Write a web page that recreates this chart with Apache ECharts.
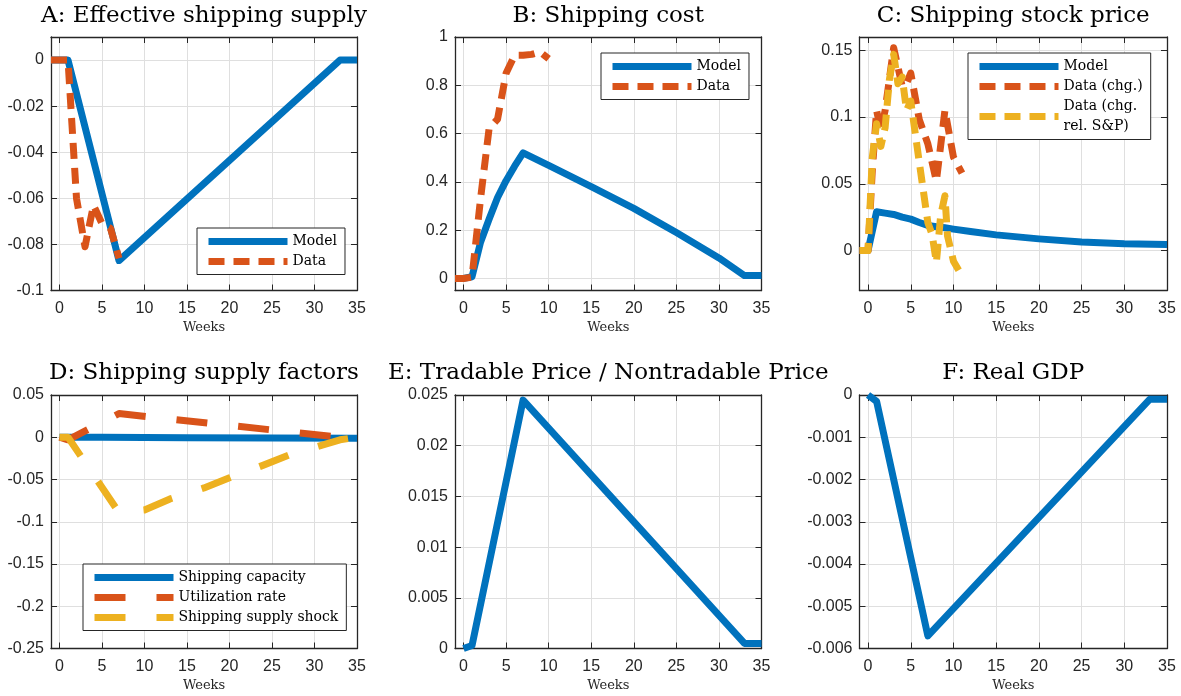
<!DOCTYPE html>
<html>
<head>
<meta charset="utf-8">
<script src="https://cdn.jsdelivr.net/npm/echarts@6/dist/echarts.min.js"></script>
<style>
  html, body { margin: 0; padding: 0; background: #fff; }
  #chart { width: 1181px; height: 696px; }
</style>
</head>
<body>
<div id="chart"></div>
<script>
// ---- Panel titles ----
const panelTitles = [
  'A: Effective shipping supply',
  'B: Shipping cost',
  'C: Shipping stock price',
  'D: Shipping supply factors',
  'E: Tradable Price / Nontradable Price',
  'F: Real GDP'
];

// ---- A: Effective shipping supply ----
const supplyModelWeeks  = [-1, 0, 1, 7, 33, 35];
const supplyModelValues = [0, 0, 0, -0.087, 0, 0];
const supplyDataWeeks   = [-1, 0, 1, 2, 3, 4, 5, 6, 7];
const supplyDataValues  = [0, 0, 0, -0.06, -0.081, -0.063, -0.071, -0.073, -0.086];

// ---- B: Shipping cost ----
const costModelWeeks  = [-1, 0, 1, 2, 3, 4, 5, 6, 7, 10, 15, 20, 25, 30, 33, 35];
const costModelValues = [0, 0, 0.007, 0.15, 0.245, 0.335, 0.405, 0.465, 0.52, 0.468, 0.38, 0.29, 0.19, 0.085, 0.012, 0.012];
const costDataWeeks   = [-1, 0, 1, 2, 3, 4, 5, 6, 7, 8, 9, 10];
const costDataValues  = [0, 0, 0.005, 0.33, 0.62, 0.66, 0.85, 0.924, 0.924, 0.928, 0.938, 0.91];

// ---- C: Shipping stock price ----
const stockModelWeeks  = [-1, 0, 1, 2, 3, 4, 5, 6, 7, 8, 9, 10, 12, 15, 20, 25, 30, 35];
const stockModelValues = [0, 0, 0.029, 0.028, 0.027, 0.025, 0.0235, 0.021, 0.0188, 0.0178, 0.017, 0.016, 0.0142, 0.0117, 0.0087, 0.0063, 0.005, 0.0045];
const stockChgWeeks    = [-1, 0, 0.5, 1, 1.5, 2, 3, 4, 4.5, 5, 6, 7, 8, 9, 10, 11];
const stockChgValues   = [0, 0, 0.06, 0.105, 0.09, 0.105, 0.152, 0.123, 0.125, 0.133, 0.098, 0.08, 0.052, 0.105, 0.07, 0.058];
const stockRelWeeks    = [-1, 0, 0.5, 1, 1.5, 2, 2.5, 3, 3.5, 4, 4.5, 5, 6, 7, 7.5, 8, 8.5, 9, 9.3, 10, 11];
const stockRelValues   = [0, 0, 0.07, 0.095, 0.078, 0.092, 0.128, 0.147, 0.125, 0.13, 0.105, 0.112, 0.066, 0.021, 0.012, -0.009, 0.026, 0.041, 0.011, -0.008, -0.019];

// ---- D: Shipping supply factors ----
const capacityWeeks  = [0, 5, 15, 25, 35];
const capacityValues = [0, 0, -0.0005, -0.001, -0.0012];
const utilWeeks      = [0, 1, 7, 33, 35];
const utilValues     = [0, -0.003, 0.028, 0, 0];
const shockWeeks     = [0, 1, 7, 10, 13, 17, 20, 24, 27, 31, 33, 35];
const shockValues    = [0, 0, -0.089, -0.086, -0.073, -0.06, -0.048, -0.033, -0.021, -0.009, -0.003, 0];

// ---- E: Tradable / nontradable price ----
const priceWeeks  = [0, 1, 7, 33, 35];
const priceValues = [0, 0.0003, 0.0245, 0.0005, 0.0005];

// ---- F: Real GDP ----
const gdpWeeks  = [0, 1, 7, 33, 35];
const gdpValues = [0, -0.00015, -0.0057, -0.0001, -0.0001];

// ---- Legend labels ----
const legendAB = ['Model', 'Data'];
const legendC  = ['Model', 'Data (chg.)', 'Data (chg.\nrel. S&P)'];
const legendD  = ['Shipping capacity', 'Utilization rate', 'Shipping supply shock'];

// ---- Styling ----
const BLUE = '#0072BD', ORANGE = '#D95319', YELLOW = '#EDB120';
const AXIS = '#262626', GRIDLINE = '#dfdfdf';
const LW = 7;
const DASH = [16, 9];
const LONG_DASH = [31, 31];
const SERIF = '"DejaVu Serif", serif';
const SANS = '"Liberation Sans", Arial, sans-serif';

// Layout of the 2x3 panel grid
const colLeft  = [51, 455, 859.5];
const colWidth = [306, 306.5, 307.5];
const rowTop   = [37, 395];
const plotH    = 253.5;

const zip = (xs, ys) => xs.map((x, i) => [x, ys[i]]);

const panels = [
  { y: { min: -0.1, max: 0.01, interval: 0.02, showMin: true, showMax: false },
    series: [
      { name: 'Model', xs: supplyModelWeeks, ys: supplyModelValues, color: BLUE, dash: 'solid' },
      { name: 'Data',  xs: supplyDataWeeks,  ys: supplyDataValues,  color: ORANGE, dash: DASH }
    ],
    legend: { left: 197, top: 228, names: legendAB } },
  { y: { min: -0.05, max: 1, splitNumber: 5, showMin: false, showMax: true },
    series: [
      { name: 'Model', xs: costModelWeeks, ys: costModelValues, color: BLUE, dash: 'solid' },
      { name: 'Data',  xs: costDataWeeks,  ys: costDataValues,  color: ORANGE, dash: DASH }
    ],
    legend: { left: 601, top: 53, names: legendAB } },
  { y: { min: -0.03, max: 0.16, splitNumber: 4, showMin: false, showMax: false },
    series: [
      { name: legendC[0], xs: stockModelWeeks, ys: stockModelValues, color: BLUE, dash: 'solid' },
      { name: legendC[1], xs: stockChgWeeks,   ys: stockChgValues,   color: ORANGE, dash: DASH },
      { name: legendC[2], xs: stockRelWeeks,   ys: stockRelValues,   color: YELLOW, dash: DASH }
    ],
    legend: { left: 968, top: 53, names: legendC } },
  { y: { min: -0.25, max: 0.05, interval: 0.05, showMin: true, showMax: true },
    series: [
      { name: legendD[0], xs: capacityWeeks, ys: capacityValues, color: BLUE, dash: 'solid' },
      { name: legendD[1], xs: utilWeeks,     ys: utilValues,     color: ORANGE, dash: LONG_DASH },
      { name: legendD[2], xs: shockWeeks,    ys: shockValues,    color: YELLOW, dash: LONG_DASH }
    ],
    legend: { left: 83, top: 564, names: legendD } },
  { y: { min: 0, max: 0.025, interval: 0.005, showMin: true, showMax: true },
    series: [ { name: 'price', xs: priceWeeks, ys: priceValues, color: BLUE, dash: 'solid' } ] },
  { y: { min: -0.006, max: 0, interval: 0.001, showMin: true, showMax: true },
    series: [ { name: 'gdp', xs: gdpWeeks, ys: gdpValues, color: BLUE, dash: 'solid' } ] }
];

const grid = [], xAxis = [], yAxis = [], series = [], legend = [], graphic = [];

const tickStyle = { inside: true, length: 6, lineStyle: { color: AXIS, width: 1 } };
const lineAxis = { onZero: false, lineStyle: { color: AXIS, width: 1.3 } };
const labelStyle = { color: AXIS, fontFamily: SANS, fontSize: 16 };

panels.forEach((p, i) => {
  const col = i % 3, row = Math.floor(i / 3);
  grid.push({ left: colLeft[col], top: rowTop[row], width: colWidth[col], height: plotH });

  const xCommon = { type: 'value', gridIndex: i, min: -1, max: 35, splitNumber: 7 };
  xAxis.push({
    ...xCommon, position: 'bottom',
    axisLine: lineAxis, axisTick: tickStyle,
    axisLabel: { ...labelStyle, margin: 10, showMinLabel: false, showMaxLabel: true },
    splitLine: { show: true, lineStyle: { color: GRIDLINE, width: 1 } },
    name: 'Weeks', nameLocation: 'middle', nameGap: 31,
    nameTextStyle: { fontFamily: SERIF, fontSize: 13, color: AXIS }
  });
  xAxis.push({
    ...xCommon, position: 'top',
    axisLine: lineAxis, axisTick: tickStyle,
    axisLabel: { show: false }, splitLine: { show: false }
  });

  const yCommon = { type: 'value', gridIndex: i, min: p.y.min, max: p.y.max };
  if (p.y.interval) yCommon.interval = p.y.interval; else yCommon.splitNumber = p.y.splitNumber;
  yAxis.push({
    ...yCommon, position: 'left',
    axisLine: lineAxis, axisTick: tickStyle,
    axisLabel: { ...labelStyle, margin: 7, showMinLabel: p.y.showMin, showMaxLabel: p.y.showMax },
    splitLine: { show: true, lineStyle: { color: GRIDLINE, width: 1 } }
  });
  yAxis.push({
    ...yCommon, position: 'right',
    axisLine: lineAxis, axisTick: tickStyle,
    axisLabel: { show: false }, splitLine: { show: false }
  });

  p.series.forEach(s => {
    series.push({
      type: 'line', name: s.name,
      xAxisIndex: 2 * i, yAxisIndex: 2 * i,
      data: zip(s.xs, s.ys),
      symbol: 'none', showSymbol: false,
      lineStyle: { color: s.color, width: LW, type: s.dash, join: 'round' },
      itemStyle: { color: s.color },
      emphasis: { disabled: true },
      animation: false
    });
  });

  if (p.legend) {
    legend.push({
      orient: 'vertical', left: p.legend.left, top: p.legend.top,
      itemWidth: 79, itemHeight: 14, itemGap: 0,
      padding: [3.5, 8, 3, 8],
      borderColor: AXIS, borderWidth: 1, backgroundColor: '#fff',
      selectedMode: false,
      textStyle: { fontFamily: SERIF, fontSize: 14, color: '#000', lineHeight: 20 },
      itemStyle: { color: 'rgba(0,0,0,0)', opacity: 0, borderWidth: 0 },
      data: p.legend.names.map(n => {
        const s = p.series.find(q => q.name === n);
        return { name: n, lineStyle: { color: s.color, width: LW, type: s.dash } };
      })
    });
  }

  graphic.push({
    type: 'text',
    x: colLeft[col] + colWidth[col] / 2,
    y: row === 0 ? 16.5 : 373,
    style: {
      text: panelTitles[i], font: '23px ' + SERIF, fill: '#000',
      textAlign: 'center', textVerticalAlign: 'middle', align: 'center', verticalAlign: 'middle'
    }
  });
});

const chart = echarts.init(document.getElementById('chart'), null, { renderer: 'canvas' });
chart.setOption({
  animation: false,
  backgroundColor: '#fff',
  grid, xAxis, yAxis, series, legend, graphic
});
</script>
</body>
</html>
